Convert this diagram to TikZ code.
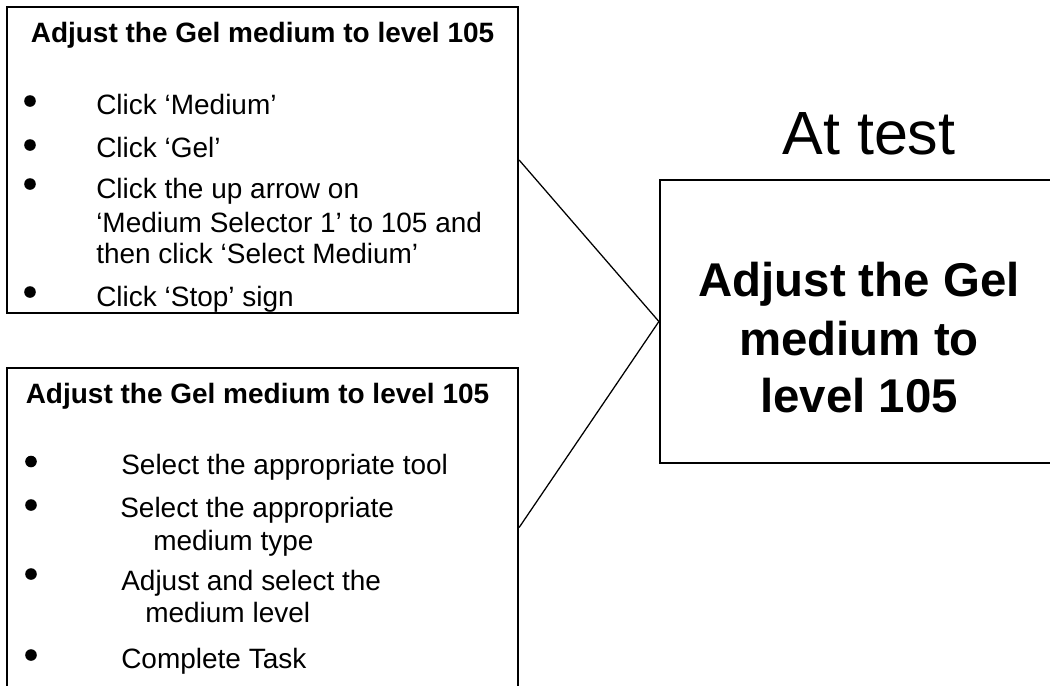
\documentclass[tikz,border=0pt]{standalone}
\usepackage{fontspec}
\setmainfont{Liberation Sans}

\begin{document}
\begin{tikzpicture}[x=0.025cm,y=-0.025cm,
  every node/.style={font=\fontsize{19.9}{23}\selectfont,inner sep=0pt},
  box/.style={draw,line width=1.5pt},
  head/.style={font=\fontsize{19.9}{23}\selectfont\bfseries,anchor=base},
  item/.style={anchor=base west},
  big/.style={font=\fontsize{33.7}{41}\selectfont\bfseries,anchor=base}]
  \useasboundingbox (0,0) rectangle (1050,685);
  \clip (0,0) rectangle (1050,685);
  \node[box,minimum width=12.775cm,minimum height=7.65cm] (upper) at (262.5,160) {};
  \node[box,minimum width=12.775cm,minimum height=7.975cm] (lower) at (262.5,527.5) {};
  \node[box,minimum width=10cm,minimum height=7.075cm] (test) at (860,321.5) {};
  \foreach \a in {upper,lower}{\draw[line width=0.9pt] (\a.east) -- (test.west);}

  \node[head] (uppertitle) at (262.5,42) {Adjust the Gel medium to level 105};
  \foreach \yy/\txt [count=\i] in {114.5/Click ‘Medium’,157.5/Click ‘Gel’,198.5/Click the up arrow on,232/‘Medium Selector 1’ to 105 and,263.5/then click ‘Select Medium’,306/Click ‘Stop’ sign}
    \node[item] (u\i) at (96,\yy) {\txt};
  \foreach \yy in {101,145,184,292} \fill (30,\yy) circle[radius=5.8];

  \node[head,anchor=base west] (lowertitle) at (25.5,403) {Adjust the Gel medium to level 105};
  \foreach \xx/\yy/\txt [count=\i] in {121/474.5/Select the appropriate tool,120/517.5/Select the appropriate,153/550/medium type,121/590.5/Adjust and select the,145/622.5/medium level,121/668/Complete Task}
    \node[item] (l\i) at (\xx,\yy) {\txt};
  \foreach \yy in {461.5,505,574,655} \fill (31,\yy) circle[radius=5.8];

  \node[font=\fontsize{43.4}{52}\selectfont,anchor=base] (attest) at (869,154) {At test};
  \foreach \yy/\txt [count=\i] in {296/Adjust the Gel,355/medium to,412/level 105}
    \node[big] (t\i) at (859,\yy) {\txt};
\end{tikzpicture}
\end{document}
